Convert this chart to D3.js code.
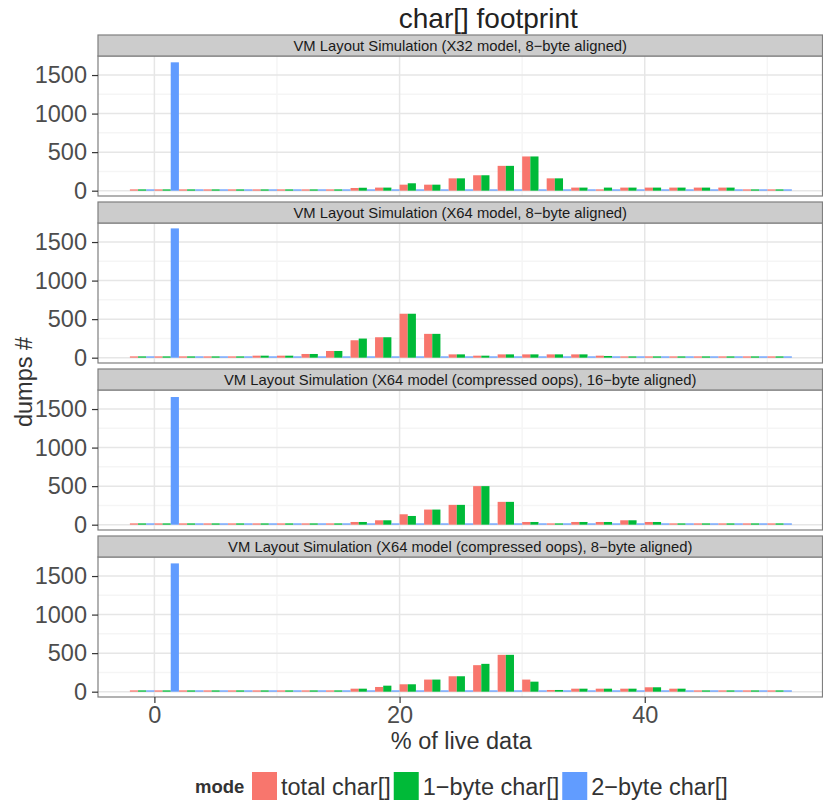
<!DOCTYPE html>
<html lang="en">
    <head>
        <meta charset="utf-8" />
        <title>char[] footprint</title>
        <script type="text/javascript" src="https://cdn.jsdelivr.net/npm/d3@7"></script>
        <style type="text/css">
            body {
                margin: 0;
                background: white;
            }
            text {
                font-family: "Liberation Sans", Arial, sans-serif;
            }
        </style>
    </head>
    <body>
        <script type="text/javascript">
            // bin centers (% of live data, bins are 2 wide)
            var bins = [-1, 1, 3, 5, 7, 9, 11, 13, 15, 17, 19, 21, 23, 25, 27, 29, 31, 33, 35, 37, 39, 41, 43, 45, 47, 49, 51];
            var modes = ["total char[]", "1\u2212byte char[]", "2\u2212byte char[]"];
            var colors = ["#F8766D", "#00BA38", "#619CFF"];
            var panelTitles = [
                "VM Layout Simulation (X32 model, 8\u2212byte aligned)",
                "VM Layout Simulation (X64 model, 8\u2212byte aligned)",
                "VM Layout Simulation (X64 model (compressed oops), 16\u2212byte aligned)",
                "VM Layout Simulation (X64 model (compressed oops), 8\u2212byte aligned)"
            ];

            var x32Total = [8, 10, 10, 10, 10, 10, 10, 10, 10, 35, 40, 78, 78, 160, 200, 322, 444, 160, 40, 17, 40, 40, 40, 40, 40, 15, 15];
            var x32One = [8, 10, 10, 10, 10, 10, 10, 10, 10, 38, 40, 96, 78, 160, 200, 322, 444, 160, 40, 40, 40, 40, 40, 40, 40, 15, 15];
            var x32Two = [4, 1665, 4, 4, 4, 4, 4, 4, 4, 4, 4, 4, 4, 4, 4, 4, 4, 4, 4, 4, 4, 4, 4, 4, 4, 4, 4];

            var x64Total = [8, 10, 10, 10, 10, 26, 26, 48, 87, 226, 265, 570, 309, 43, 26, 43, 43, 43, 43, 26, 8, 8, 8, 8, 8, 8, 8];
            var x64One = [8, 10, 10, 10, 10, 26, 26, 48, 87, 248, 265, 570, 309, 43, 26, 43, 43, 43, 43, 22, 8, 8, 8, 8, 8, 8, 8];
            var x64Two = [4, 1677, 4, 4, 4, 4, 4, 4, 4, 4, 4, 4, 4, 4, 4, 4, 4, 4, 4, 4, 4, 4, 4, 4, 4, 4, 4];

            var coops16Total = [8, 10, 10, 10, 10, 10, 10, 10, 10, 35, 57, 135, 196, 257, 500, 296, 35, 13, 35, 35, 57, 35, 13, 13, 13, 13, 13];
            var coops16One = [8, 10, 10, 10, 10, 10, 10, 10, 10, 35, 57, 113, 196, 257, 500, 296, 35, 13, 35, 35, 57, 35, 13, 13, 13, 13, 13];
            var coops16Two = [4, 1656, 4, 4, 4, 4, 4, 4, 4, 4, 4, 4, 4, 4, 4, 4, 4, 4, 4, 4, 4, 4, 4, 4, 4, 4, 4];

            var coops8Total = [8, 10, 10, 10, 10, 10, 10, 10, 10, 39, 61, 96, 157, 200, 344, 478, 157, 22, 39, 39, 39, 57, 39, 15, 15, 15, 15];
            var coops8One = [8, 10, 10, 10, 10, 10, 10, 10, 10, 39, 78, 96, 157, 200, 361, 478, 130, 22, 39, 39, 39, 57, 39, 15, 15, 15, 15];
            var coops8Two = [4, 1664, 4, 4, 4, 4, 4, 4, 4, 4, 4, 4, 4, 4, 4, 4, 4, 4, 4, 4, 4, 4, 4, 4, 4, 4, 4];

            var yTicks = [0, 500, 1000, 1500];
            var yMinor = [250, 750, 1250];
            var xTicks = [0, 20, 40];
            var xMinor = [10, 30, 50];

            var panelSeries = [
                [x32Total, x32One, x32Two],
                [x64Total, x64One, x64Two],
                [coops16Total, coops16One, coops16Two],
                [coops8Total, coops8One, coops8Two]
            ];

            var w = 823;
            var h = 800;
            var left = 98;
            var right = 822.5;
            var firstStrip = 35;
            var period = 167;
            var stripH = 21;
            var panelH = 140;
            var labelSize = "23.5px";

            var xScale = d3.scaleLinear().domain([-4.6, 54.5]).range([left, right]);
            var yScale = d3.scaleLinear().domain([-69, 1747]).range([panelH, 0]);
            var offset = d3.scaleBand().domain(modes).range([0, 2]);
            var barW = xScale(offset.bandwidth()) - xScale(0);

            var svg = d3
                .select("body")
                .append("svg")
                .attr("width", w)
                .attr("height", h);

            svg.append("rect").attr("width", w).attr("height", h).attr("fill", "white");

            // title
            svg.append("text")
                .attr("x", (left + right) / 2 + 28)
                .attr("y", 28)
                .attr("text-anchor", "middle")
                .attr("font-size", "28px")
                .attr("fill", "#222")
                .text("char[] footprint");

            panelTitles.forEach(function(title, p) {
                var top = firstStrip + p * period;
                var g = svg.append("g").attr("transform", "translate(0," + (top + stripH) + ")");

                g.append("rect")
                    .attr("x", left)
                    .attr("y", 0)
                    .attr("width", right - left)
                    .attr("height", panelH)
                    .attr("fill", "white");

                // minor grid
                g.selectAll("line.ymin")
                    .data(yMinor)
                    .enter()
                    .append("line")
                    .attr("x1", left)
                    .attr("x2", right)
                    .attr("y1", function(d) { return yScale(d); })
                    .attr("y2", function(d) { return yScale(d); })
                    .attr("stroke", "#f5f5f5")
                    .attr("stroke-width", 1.5);
                g.selectAll("line.xmin")
                    .data(xMinor)
                    .enter()
                    .append("line")
                    .attr("x1", function(d) { return xScale(d); })
                    .attr("x2", function(d) { return xScale(d); })
                    .attr("y1", 0)
                    .attr("y2", panelH)
                    .attr("stroke", "#f5f5f5")
                    .attr("stroke-width", 1.5);

                // major grid
                g.selectAll("line.ymaj")
                    .data(yTicks)
                    .enter()
                    .append("line")
                    .attr("x1", left)
                    .attr("x2", right)
                    .attr("y1", function(d) { return yScale(d); })
                    .attr("y2", function(d) { return yScale(d); })
                    .attr("stroke", "#e6e6e6")
                    .attr("stroke-width", 1.5);
                g.selectAll("line.xmaj")
                    .data(xTicks)
                    .enter()
                    .append("line")
                    .attr("x1", function(d) { return xScale(d); })
                    .attr("x2", function(d) { return xScale(d); })
                    .attr("y1", 0)
                    .attr("y2", panelH)
                    .attr("stroke", "#e6e6e6")
                    .attr("stroke-width", 1.5);

                // bars
                var rows = [];
                panelSeries[p].forEach(function(values, s) {
                    values.forEach(function(v, i) {
                        rows.push({ mode: modes[s], color: colors[s], bin: bins[i], value: v });
                    });
                });
                g.selectAll("rect.bar")
                    .data(rows)
                    .enter()
                    .append("rect")
                    .attr("class", "bar")
                    .attr("x", function(d) {
                        return xScale(d.bin - 1 + offset(d.mode));
                    })
                    .attr("width", barW)
                    .attr("y", function(d) {
                        return Math.min(yScale(d.value), yScale(0) - 1.3);
                    })
                    .attr("height", function(d) {
                        return Math.max(yScale(0) - yScale(d.value), 1.3);
                    })
                    .attr("fill", function(d) {
                        return d.color;
                    });

                // panel border
                g.append("rect")
                    .attr("x", left)
                    .attr("y", 0)
                    .attr("width", right - left)
                    .attr("height", panelH)
                    .attr("fill", "none")
                    .attr("stroke", "#7f7f7f")
                    .attr("stroke-width", 1.2);

                // strip
                svg.append("rect")
                    .attr("x", left)
                    .attr("y", top)
                    .attr("width", right - left)
                    .attr("height", stripH)
                    .attr("fill", "#cccccc")
                    .attr("stroke", "#7f7f7f")
                    .attr("stroke-width", 1.2);
                svg.append("text")
                    .attr("x", (left + right) / 2)
                    .attr("y", top + 16)
                    .attr("text-anchor", "middle")
                    .attr("font-size", "14.8px")
                    .attr("fill", "#1a1a1a")
                    .text(title);

                // y axis
                var yAxis = g.append("g")
                    .attr("transform", "translate(" + left + ",0)")
                    .call(d3.axisLeft(yScale).tickValues(yTicks).tickFormat(d3.format("d")).tickSize(6).tickPadding(5));
                yAxis.select(".domain").remove();
                yAxis.selectAll("line").attr("stroke", "#333").attr("stroke-width", 1.2);
                yAxis.selectAll("text")
                    .attr("font-size", labelSize)
                    .attr("font-family", "Liberation Sans, Arial, sans-serif")
                    .attr("fill", "#4d4d4d");

                if (p === panelTitles.length - 1) {
                    var xAxis = g.append("g")
                        .attr("transform", "translate(0," + panelH + ")")
                        .call(d3.axisBottom(xScale).tickValues(xTicks).tickFormat(d3.format("d")).tickSize(6).tickPadding(3));
                    xAxis.select(".domain").remove();
                    xAxis.selectAll("line").attr("stroke", "#333").attr("stroke-width", 1.2);
                    xAxis.selectAll("text")
                        .attr("font-size", labelSize)
                        .attr("font-family", "Liberation Sans, Arial, sans-serif")
                        .attr("fill", "#4d4d4d");
                }
            });

            // axis titles
            svg.append("text")
                .attr("x", (left + right) / 2 + 1)
                .attr("y", 749)
                .attr("text-anchor", "middle")
                .attr("font-size", labelSize)
                .attr("fill", "#333")
                .text("% of live data");
            svg.append("text")
                .attr("transform", "translate(32,382) rotate(-90)")
                .attr("text-anchor", "middle")
                .attr("font-size", labelSize)
                .attr("fill", "#333")
                .text("dumps #");

            // legend
            var legend = svg.append("g");
            legend.append("text")
                .attr("x", 195)
                .attr("y", 793)
                .attr("font-size", "18.5px")
                .attr("font-weight", "bold")
                .attr("fill", "#333")
                .text("mode");
            var lx = 252;
            modes.forEach(function(m, i) {
                legend.append("rect")
                    .attr("x", lx)
                    .attr("y", 772)
                    .attr("width", 25)
                    .attr("height", 28)
                    .attr("fill", colors[i]);
                var t = legend.append("text")
                    .attr("x", lx + 29)
                    .attr("y", 795)
                    .attr("font-size", labelSize)
                    .attr("fill", "#333")
                    .text(m);
                lx = lx + 29 + t.node().getComputedTextLength() + 3;
            });
        </script>
    </body>
</html>
